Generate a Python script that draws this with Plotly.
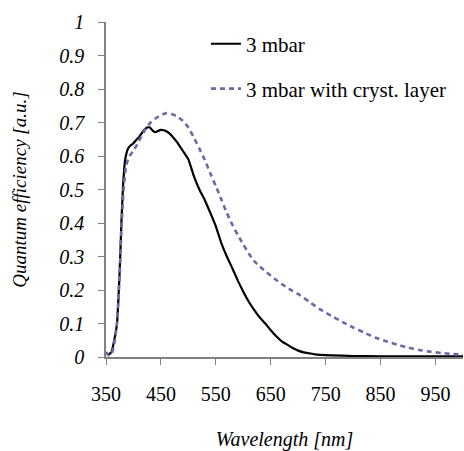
import plotly.graph_objects as go

wl_a = [350, 355, 360, 365, 370, 375, 378, 381, 385, 390, 395, 400, 405, 410, 415, 420, 425, 430, 435,
        440, 445, 450, 455, 460, 465, 470, 480, 490, 500, 510, 520, 530, 540, 550, 560, 570, 580,
        590, 600, 610, 620, 630, 640, 650, 660, 670, 680, 690, 700, 710, 720, 730, 760, 800, 850,
        900, 950, 1000]
qe_a = [0.012, 0.008, 0.015, 0.05, 0.10, 0.26, 0.40, 0.51, 0.59, 0.622, 0.632, 0.638, 0.648, 0.656,
        0.668, 0.678, 0.685, 0.685, 0.676, 0.671, 0.675, 0.678, 0.677, 0.674, 0.668, 0.66, 0.64,
        0.615, 0.59, 0.54, 0.50, 0.468, 0.43, 0.39, 0.34, 0.30, 0.265, 0.228, 0.195, 0.165, 0.14,
        0.118, 0.10, 0.08, 0.062, 0.047, 0.037, 0.027, 0.019, 0.014, 0.011, 0.008, 0.005, 0.003,
        0.002, 0.002, 0.002, 0.002]

wl_b = [350, 355, 360, 365, 370, 375, 378, 382, 386, 390, 395, 400, 410, 420, 430, 440, 450, 460,
        470, 480, 490, 500, 510, 520, 530, 540, 550, 560, 570, 580, 590, 600, 610, 620, 630, 640,
        650, 660, 670, 680, 690, 700, 720, 740, 760, 780, 800, 820, 840, 860, 880, 900, 920, 940,
        960, 980, 1000]
qe_b = [0.015, 0.005, 0.008, 0.04, 0.10, 0.25, 0.38, 0.50, 0.565, 0.59, 0.605, 0.615, 0.645, 0.675,
        0.698, 0.712, 0.722, 0.728, 0.725, 0.718, 0.705, 0.685, 0.655, 0.622, 0.588, 0.548, 0.51,
        0.47, 0.43, 0.395, 0.364, 0.336, 0.309, 0.286, 0.27, 0.256, 0.243, 0.23, 0.218, 0.207,
        0.197, 0.188, 0.165, 0.142, 0.123, 0.105, 0.088, 0.073, 0.058, 0.047, 0.037, 0.028, 0.021,
        0.016, 0.012, 0.009, 0.007]

names = ["3 mbar", "3 mbar with cryst. layer"]
x_ticks = [350, 450, 550, 650, 750, 850, 950]
x_title = "Wavelength [nm]"
y_title = "Quantum efficiency [a.u.]"

FONT = "Times New Roman"

fig = go.Figure()
fig.add_trace(go.Scatter(x=wl_a, y=qe_a, mode="lines", name=names[0], legend="legend",
                         line=dict(color="black", width=2.2, shape="spline", smoothing=0.4)))
fig.add_trace(go.Scatter(x=wl_b, y=qe_b, mode="lines", name=names[1], legend="legend2",
                         line=dict(color="#6a6aa8", width=2.6, dash="5px,4px", shape="spline",
                                   smoothing=0.4)))

fig.update_layout(
    width=464, height=451,
    margin=dict(l=106, r=1, t=22, b=94),
    paper_bgcolor="white", plot_bgcolor="white",
    font=dict(family=FONT, size=20, color="black"),
    showlegend=True,
    legend=dict(x=0.28, y=0.934, xanchor="left", yanchor="middle", bgcolor="rgba(0,0,0,0)",
                font=dict(family=FONT, size=21, color="black")),
    legend2=dict(x=0.28, y=0.8, xanchor="left", yanchor="middle", bgcolor="rgba(0,0,0,0)",
                 font=dict(family=FONT, size=21, color="black")),
    xaxis=dict(range=[350, 1000], tickvals=x_ticks, ticks="outside", ticklen=6,
               tickcolor="#808080", showline=True, linecolor="#808080", linewidth=1.5,
               showgrid=False, zeroline=False, ticklabelstandoff=12,
               tickfont=dict(family=FONT, size=20, color="black"),
               title=dict(text=x_title, standoff=28,
                          font=dict(family=FONT, size=20, style="italic", color="black"))),
    yaxis=dict(range=[0, 1], dtick=0.1, ticks="outside", ticklen=6,
               tickcolor="#808080", showline=True, linecolor="#808080", linewidth=1.5,
               showgrid=False, zeroline=False, ticklabelstandoff=10,
               tickfont=dict(family=FONT, size=20, style="italic", color="black"),
               title=dict(text=y_title, standoff=28,
                          font=dict(family=FONT, size=19, style="italic", color="black"))),
)

fig.write_html("out.html")
